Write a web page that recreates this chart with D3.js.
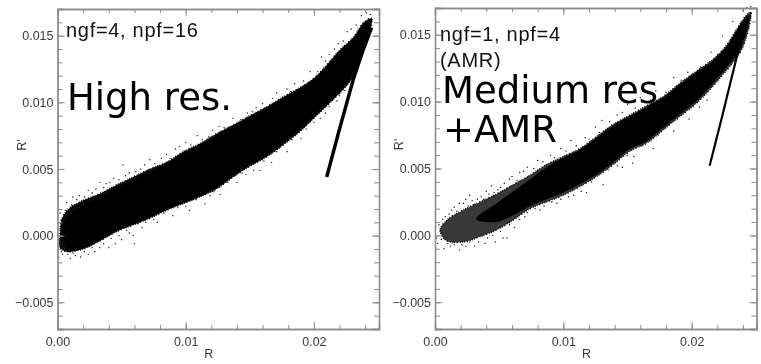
<!DOCTYPE html>
<html>
<head>
<meta charset="utf-8">
<script src="https://cdn.jsdelivr.net/npm/d3@7"></script>
<style>
  html, body { margin: 0; padding: 0; background: #fff; }
  svg { display: block; }
  .tick text, .axis-title { font-family: "Liberation Sans", sans-serif; font-size: 12.5px; fill: #3a3a3a; }
  .note { font-family: "Liberation Sans", sans-serif; font-size: 20px; letter-spacing: 0.7px; fill: #111; }
  .big { font-family: "DejaVu Sans", sans-serif; font-size: 37px; fill: #000; }
</style>
</head>
<body>
<svg id="chart" width="761" height="364"></svg>
<script>
//#region DATA /////////////////////////////////////////////////////////////////

const xMajor = [0, 0.01, 0.02], xMinor = [0, 0.002, 0.004, 0.006, 0.008, 0.01, 0.012, 0.014, 0.016, 0.018, 0.02, 0.022, 0.024];
const yMajor = [-0.005, 0, 0.005, 0.01, 0.015];
const yMinor = [-0.006, -0.005, -0.004, -0.003, -0.002, -0.001, 0, 0.001, 0.002, 0.003, 0.004, 0.005, 0.006, 0.007, 0.008, 0.009, 0.01, 0.011, 0.012, 0.013, 0.014, 0.015, 0.016];

// outline of the solid cloud: [R, R']
const highOuter = [
  [.0002,.00015],[.0003,.00115],[.00085,.0020],[.0020,.00265],[.0033,.00315],[.0046,.0038],[.0059,.0044],
  [.0072,.0050],[.0085,.0055],[.0098,.0063],[.0111,.0069],[.0124,.00765],[.0137,.0083],[.0150,.0090],
  [.0163,.00965],[.0176,.0104],[.0189,.0111],[.0200,.0118],[.0210,.0128],[.0220,.0139],[.0231,.0149],
  [.0239,.0160],[.0245,.0163],[.0244,.0154],[.0239,.0139],[.0231,.0120],[.0226,.0113],[.0215,.0102],
  [.0202,.0090],[.0189,.0078],[.0176,.0068],[.0163,.0059],[.0150,.0052],[.0137,.0044],[.0124,.0035],
  [.0111,.0029],[.0098,.0024],[.0085,.0019],[.0072,.0013],[.0059,.0008],[.0046,.0003],[.0033,-.0004],
  [.0020,-.0010],[.0007,-.0012],[.0002,-.0009]
];
const highCore = [
  [.0004,.0002],[.0006,.0012],[.0020,.0023],[.0033,.0029],[.0046,.0036],[.0059,.0042],[.0072,.0048],
  [.0085,.0054],[.0098,.0061],[.0111,.0068],[.0124,.0075],[.0137,.0082],[.0150,.0089],[.0163,.0095],
  [.0176,.0103],[.0189,.0110],[.0200,.0117],[.0210,.0127],[.0220,.0138],[.0231,.0148],[.0239,.0159],
  [.0244,.0162],[.0243,.0154],[.0238,.0139],[.0230,.0121],[.0225,.0114],[.0214,.0103],[.0201,.0091],
  [.0189,.0080],[.0176,.0070],[.0163,.0060],[.0150,.0053],[.0137,.0045],[.0124,.0036],[.0111,.0030],
  [.0098,.0025],[.0085,.0020],[.0072,.0014],[.0059,.0009],[.0046,.0004],[.0033,-.0003],[.0020,-.0009],
  [.0009,-.0010]
];
const highSpike = [[.0210,.0044],[.0220,.0080],[.0231,.0118],[.0238,.0138],[.0245,.0156]];
const highDots = [
  [.0001,-.0016],[.0004,-.0014],[.0010,-.0017],[.0014,-.0015],[.0018,-.0016],[.0024,-.0014],[.0029,-.0012],[.0033,-.0009],
  [.0040,-.0009],[.0045,-.0006],[.0050,-.0003],[.0060,-.0006],[.0059,.0000],[.0056,.0002],[.0066,.0006],[.0078,.0010],
  [.0090,.0015],[.0103,.0019],[.0115,.0024],[.0127,.0031],[.0140,.0040],[.0147,.0046],[.0158,.0049],[.0167,.0055],
  [.0179,.0063],[.0190,.0073],[.0200,.0085],[.0209,.0092],[.0220,.0105],[.0228,.0108],
  [.0002,.0017],[.0007,.0025],[.0012,.0029],[.0017,.0030],[.0024,.0034],[.0033,.0040],[.0038,.0039],[.0044,.0043],
  [.0051,.0053],[.0056,.0047],[.0065,.0050],[.0072,.0057],[.0085,.0061],[.0092,.0065],[.0100,.0070],[.0109,.0075],
  [.0118,.0074],[.0126,.0082],[.0137,.0088],[.0148,.0092],[.0155,.0096],[.0168,.0103],[.0179,.0110],[.0185,.0114],
  [.0197,.0123],[.0206,.0134],[.0212,.0136],[.0219,.0144],[.0226,.0153],[.0233,.0158],[.0237,.0165],[.0241,.0167],[.0244,.0166],
  [.0006,.0019],[.0011,.0023],[.0015,.0027],[.0021,.0029],[.0027,.0032],[.0030,.0035],[.0036,.0036],[.0041,.0040],
  [.0048,.0042],[.0053,.0045],[.0061,.0048],[.0068,.0053],[.0076,.0054],[.0081,.0058],[.0088,.0058],[.0095,.0067],
  [.0104,.0068],[.0113,.0072],[.0121,.0079],[.0130,.0081],[.0143,.0087],[.0152,.0093],[.0160,.0099],[.0171,.0107],
  [.0182,.0108],[.0192,.0116],[.0203,.0123],[.0209,.0131],[.0216,.0140],[.0223,.0146],[.0229,.0155],
  [.0003,-.0012],[.0008,-.0014],[.0012,-.0013],[.0021,-.0012],[.0027,-.0009],[.0036,-.0006],[.0042,-.0002],[.0048,.0000],
  [.0054,.0004],[.0063,.0009],[.0069,.0010],[.0075,.0012],[.0083,.0017],[.0094,.0021],[.0100,.0022],[.0108,.0027],
  [.0119,.0030],[.0122,.0033],[.0133,.0040],[.0144,.0047],[.0153,.0049],[.0161,.0056],[.0171,.0063],[.0183,.0072],
  [.0194,.0080],[.0205,.0088],[.0212,.0097],[.0218,.0101],[.0224,.0109]
];

const medOuter = [
  [.0004,.0004],[.0010,.0012],[.0022,.0019],[.0035,.0025],[.0048,.0031],[.0061,.0038],[.0074,.0045],[.0087,.0053],
  [.0100,.0059],[.0113,.0065],[.0126,.0074],[.0139,.0083],[.0152,.0090],[.0165,.0097],[.0178,.0104],
  [.0191,.0114],[.0204,.0123],[.0217,.0132],[.0227,.0142],[.0235,.0154],[.0242,.0164],[.0246,.0167],
  [.0245,.0157],[.0239,.0139],[.0232,.0129],[.0225,.0121],[.0217,.0112],[.0204,.0099],[.0191,.0089],
  [.0178,.0079],[.0165,.0069],[.0152,.0063],[.0139,.0053],[.0126,.0044],[.0113,.00365],[.0100,.0030],
  [.0087,.0025],[.0074,.0020],[.0061,.00115],[.0048,.0004],[.0035,-.0001],[.0022,-.0005],[.0009,-.0004]
];
const medCore = [
  [.0032,.0012],[.0048,.0024],[.0061,.0033],[.0074,.0042],[.0087,.0051],[.0100,.0058],[.0113,.0064],
  [.0126,.0073],[.0139,.0082],[.0152,.0089],[.0165,.0096],[.0178,.0103],[.0191,.0113],[.0204,.0122],
  [.0217,.0131],[.0227,.0141],[.0235,.0153],[.0242,.0163],[.0245,.0165],[.0244,.0157],[.0238,.0140],
  [.0231,.0130],[.0224,.0122],[.0216,.0113],[.0203,.0100],[.0190,.0090],[.0177,.0080],[.0164,.0070],
  [.0151,.0064],[.0138,.0054],[.0125,.0045],[.0112,.0038],[.0100,.0032],[.0087,.0027],[.0074,.0022],
  [.0061,.0015],[.0048,.0010]
];
const medSpike = [[.0214,.0052],[.0224,.0090],[.0236,.0137],[.0243,.0155]];
const medDots = [
  [.0001,-.0002],[.0002,-.0006],[.0004,.0003],[.0007,-.0010],[.0012,-.0008],[.0019,-.0011],[.0024,-.0008],[.0031,-.0008],
  [.0039,-.0006],[.0047,-.0005],[.0053,-.0002],[.0056,-.0002],[.0062,.0006],[.0070,.0014],[.0082,.0019],[.0095,.0024],
  [.0108,.0030],[.0118,.0032],[.0131,.0038],[.0146,.0051],[.0154,.0054],[.0155,.0059],[.0170,.0065],[.0186,.0078],
  [.0198,.0087],[.0212,.0101],
  [.0003,.0008],[.0006,.0012],[.0011,.0016],[.0015,.0021],[.0019,.0024],[.0024,.0027],[.0027,.0030],[.0030,.0023],
  [.0036,.0029],[.0040,.0033],[.0044,.0037],[.0049,.0034],[.0054,.0039],[.0058,.0042],[.0066,.0047],[.0072,.0051],
  [.0080,.0056],[.0090,.0060],[.0098,.0065],[.0106,.0071],[.0117,.0073],[.0125,.0081],[.0130,.0086],[.0142,.0090],
  [.0150,.0098],[.0160,.0103],[.0172,.0108],[.0186,.0118],[.0197,.0122],[.0215,.0137],[.0224,.0149],[.0232,.0160],
  [.0240,.0168],[.0243,.0170],[.0246,.0171],
  [.0008,.0014],[.0013,.0019],[.0017,.0018],[.0022,.0024],[.0026,.0022],[.0029,.0026],[.0033,.0027],[.0038,.0027],
  [.0042,.0031],[.0046,.0032],[.0051,.0036],[.0056,.0035],[.0060,.0044],[.0064,.0041],[.0069,.0048],[.0077,.0050],
  [.0084,.0055],[.0093,.0058],[.0102,.0063],[.0110,.0067],[.0120,.0072],[.0128,.0077],[.0136,.0085],[.0146,.0092],
  [.0156,.0095],[.0168,.0101],[.0180,.0107],[.0192,.0116],[.0207,.0126],[.0220,.0135],
  [.0005,-.0003],[.0010,-.0006],[.0015,-.0007],[.0021,-.0007],[.0027,-.0005],[.0034,-.0005],[.0041,-.0002],[.0045,.0000],
  [.0051,.0003],[.0058,.0008],[.0066,.0012],[.0072,.0017],[.0078,.0020],[.0085,.0022],[.0091,.0025],[.0098,.0027],
  [.0104,.0029],[.0114,.0033],[.0122,.0040],[.0135,.0049],[.0142,.0052],[.0150,.0060],[.0161,.0067],[.0174,.0075],
  [.0182,.0083],[.0195,.0092],[.0206,.0096]
];

//#endregion

//#region DRAWING //////////////////////////////////////////////////////////////

const svg = d3.select("#chart");

svg.append("defs").append("filter").attr("id", "soft")
    .append("feGaussianBlur").attr("stdDeviation", 0.4);

const AXIS_COLOR = "#8a8a8a";

function drawPanel(box, outer, core, spike, dots)
{
  let x = d3.scaleLinear().domain([ 0, box.xMax ]).range([ box.left, box.right ]);
  let y = d3.scaleLinear().domain([ -0.007, 0.017 ]).range([ box.bottom, box.top ]);

  let g = svg.append("g").attr("filter", "url(#soft)");

  // cloud
  let outline = d3.line().x(d => x(d[0])).y(d => y(d[1])).curve(d3.curveCatmullRomClosed);
  g.append("path").attr("d", outline(outer)).attr("fill", "#000").attr("fill-opacity", box.fringe)
      .attr("stroke", "#000").attr("stroke-width", 1.6).attr("stroke-dasharray", "1 1.3 0.7 2.3 1.2 1.8 0.8 1.1");
  g.append("path").attr("d", outline(core)).attr("fill", "#000");

  let spikeLine = d3.line().x(d => x(d[0])).y(d => y(d[1]));
  g.append("path").attr("d", spikeLine(spike)).attr("fill", "none").attr("stroke", "#000").attr("stroke-width", box.spikeWidth);

  g.selectAll("circle").data(dots).enter().append("circle")
      .attr("cx", d => x(d[0])).attr("cy", d => y(d[1])).attr("r", 0.7).attr("fill", "#111");

  // minor ticks on all four sides, major ticks on top of them
  let fmt = () => "";
  for (let [ axis, pos ] of [ [ d3.axisBottom(x), box.bottom ], [ d3.axisTop(x), box.top ] ])
  {
    g.append("g").attr("transform", "translate(0," + pos + ")")
        .call(axis.tickValues(xMinor).tickFormat(fmt).tickSize(-4));
    g.append("g").attr("transform", "translate(0," + pos + ")")
        .call(axis.tickValues(xMajor).tickFormat(fmt).tickSize(-7));
  }
  for (let [ axis, pos ] of [ [ d3.axisLeft(y), box.left ], [ d3.axisRight(y), box.right ] ])
  {
    g.append("g").attr("transform", "translate(" + pos + ",0)")
        .call(axis.tickValues(yMinor).tickFormat(fmt).tickSize(-5));
    g.append("g").attr("transform", "translate(" + pos + ",0)")
        .call(axis.tickValues(yMajor).tickFormat(fmt).tickSize(-7));
  }
  g.selectAll(".domain").attr("stroke", AXIS_COLOR).attr("stroke-width", 1.3);
  g.selectAll(".tick line").attr("stroke", AXIS_COLOR).attr("stroke-width", 1);

  svg.append("g").attr("transform", "translate(0," + box.bottom + ")")
      .call(d3.axisBottom(x).tickValues(xMajor).tickFormat(d3.format(".2f")).tickSize(0).tickPadding(8))
      .call(s => s.select(".domain").remove());
  svg.append("g").attr("transform", "translate(" + box.left + ",0)")
      .call(d3.axisLeft(y).tickValues(yMajor).tickFormat(d3.format(".3f")).tickSize(0).tickPadding(4))
      .call(s => s.select(".domain").remove());

  svg.append("text").attr("class", "axis-title").attr("x", x(0.0118)).attr("y", 358)
      .attr("text-anchor", "middle").text("R");
  svg.append("text").attr("class", "axis-title").attr("text-anchor", "middle")
      .attr("transform", "translate(" + (box.left - 32) + "," + y(0.0068) + ") rotate(-90)")
      .text("R'");
}

drawPanel({ left: 57.5, right: 379, top: 9, bottom: 329, xMax: 0.02508, spikeWidth: 3.4, fringe: 0.95 },
          highOuter, highCore, highSpike, highDots);
drawPanel({ left: 435, right: 756.5, top: 8, bottom: 329, xMax: 0.02505, spikeWidth: 2.2, fringe: 0.78 },
          medOuter, medCore, medSpike, medDots);

function note(cls, px, py, str)
{
  svg.append("text").attr("class", cls).attr("x", px).attr("y", py).text(str);
}
note("note", 66, 37, "ngf=4, npf=16");
note("big", 67, 110, "High res.");
note("note", 440, 41, "ngf=1, npf=4");
note("note", 440, 67, "(AMR)");
note("big", 442, 103, "Medium res");
note("big", 443, 142, "+AMR");

//#endregion
</script>
</body>
</html>
